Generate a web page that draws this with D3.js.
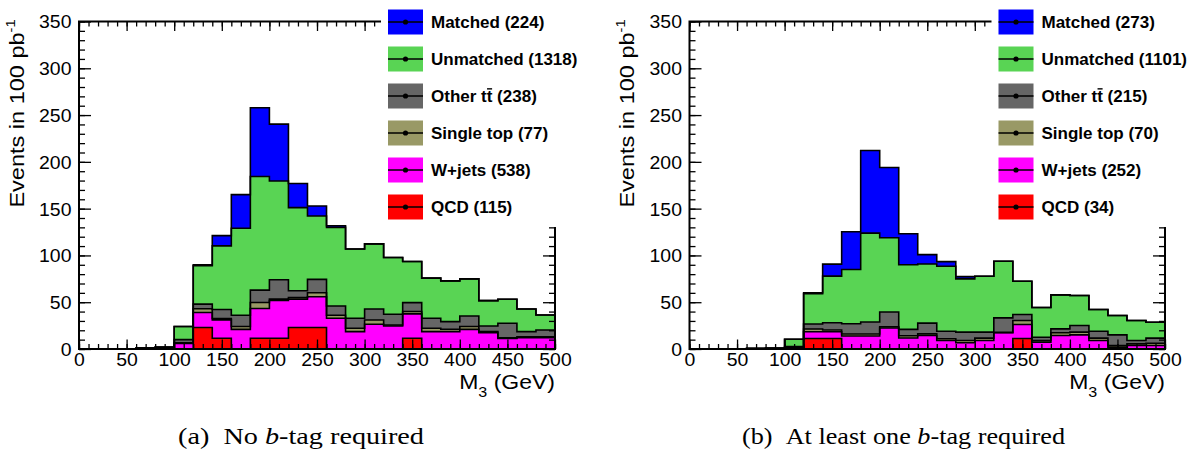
<!DOCTYPE html>
<html>
<head>
<meta charset="utf-8">
<script src="https://cdn.jsdelivr.net/npm/d3@7"></script>
<style>
  html, body { margin: 0; padding: 0; background: #fff; }
  svg { display: block; }
  text { font-family: "Liberation Sans", Arial, Helvetica, sans-serif; fill: #000; }
  .caption { font-family: "Liberation Serif", "Times New Roman", serif; }
</style>
</head>
<body>
<svg id="chart" width="1197" height="450"></svg>
<script>
// M3 binning: 25 bins of 20 GeV between 0 and 500 GeV
const binEdges = d3.range(0, 501, 20);
const yTickValues = [0, 50, 100, 150, 200, 250, 300, 350];
const xTickValues = [0, 50, 100, 150, 200, 250, 300, 350, 400, 450, 500];

// Process names, bottom of the stack first
const processNames = ["QCD", "W+jets", "Single top", "Other tt", "Unmatched", "Matched"];
const processColors = ["#ff0000", "#ff00ff", "#999966", "#666666", "#59d454", "#0000ff"];

// (a) No b-tag required — events per bin in 100 pb^-1
const qcdA       = [0,0,0,0,0,0,23,11.5,0,11.5,11.5,23,23,0,0,0,0,11.5,0,0,0,0,0,0,0];
const wjetsA     = [0,0,0,0,0.5,6,16,19.6,21,31.8,40.3,30.3,32.8,32.8,18.6,26.4,24.6,26,18.6,18.6,21,17.5,11.4,12.1,12.1];
const singleTopA = [0,0,0,0,0,0.5,4,1.5,3,6.4,1.5,1.8,4.3,3.2,3.5,4.6,1,2.5,3.6,2.5,3,1.1,0.7,1,1];
const otherTtA   = [0,0,0,0.5,0.7,3.5,5,9.6,12,13.2,20.7,7.2,14.3,10,10.8,11.8,11.5,9.6,10.6,8.2,11.3,6,15.4,5.5,7.2];
const unmatchedA = [0,0,0,0.8,1,14,41,68,93,121.4,105.6,88.8,67.8,84,73.9,69.6,60.7,43.9,42.9,43.5,39.6,27.1,25.7,24.2,16.1];
const matchedA   = [0,0,0,0,0,0,1,11,36,73.5,60.7,25.7,10.7,1.7,0,0,0,0,0,0,0,0,0,0,0];
const legendCountsA = [115, 538, 77, 238, 1318, 224];

// (b) At least one b-tag required
const qcdB       = [0,0,0,0,0,0,11.3,11.3,0,0,0,0,0,0,0,0,0,11.3,0,0,0,0,0,0,0];
const wjetsB     = [0,0,0,0,0,1,7.2,7.2,13.9,13.9,22.4,11.7,14.4,9.1,6.6,9.1,17.3,14.9,7.3,14.4,15.1,9.1,2,3.7,3.7];
const singleTopB = [0,0,0,0,0,0.3,2.9,1.8,2.1,2.1,1.4,2.5,1.8,1.8,2.5,2.5,0.5,4.2,1.8,2.9,2.9,2.5,1.7,1.8,2.5];
const otherTtB   = [0,0,0,0.3,0.5,1.2,5.3,7.8,11,12.8,15.7,6.8,11.4,8.1,8.9,6.4,15.5,6.4,3.5,4.2,7.1,7.4,11.4,3.6,5.4];
const unmatchedB = [0,0,0,0.4,0.5,8,32.3,49.8,58,95,79.4,69,63.3,69.4,56.9,59.8,60.5,35.6,31.7,36.3,32,23.2,20.7,21.3,17];
const matchedB   = [0,0,0,0,0,0,1.1,12.8,40.3,88.3,75.1,33.1,10,5,2.5,0,0,0,0,0,0,0,0,0,0];
const legendCountsB = [34, 252, 70, 215, 1101, 273];

const yAxisTitle = "Events in 100 pb";
const xAxisTitle = "M";
const captionA = { tag: "(a)", pre: "No ", b: "b", post: "-tag required" };
const captionB = { tag: "(b)", pre: "At least one ", b: "b", post: "-tag required" };

const svg = d3.select("#chart");

function drawPanel(opts) {
  const { x0, x1, yTop, yBottom, series, counts, caption, captionX, captionWidth } = opts;
  const g = svg.append("g");

  const x = d3.scaleLinear().domain([0, 500]).range([x0, x1]);
  const y = d3.scaleLinear().domain([0, 350]).range([yBottom, yTop]);

  // Stack the processes bin by bin
  const rows = binEdges.slice(0, -1).map((lo, i) => {
    const r = { lo };
    processNames.forEach((n, k) => { r[n] = series[k][i]; });
    return r;
  });
  const stacked = d3.stack().keys(processNames)(rows);

  // Step points: one per bin plus the closing edge at 500 GeV
  const stepPoints = layer => {
    const pts = layer.map(d => ({ xv: d.data.lo, lo: d[0], hi: d[1] }));
    const last = layer[layer.length - 1];
    pts.push({ xv: 500, lo: last[0], hi: last[1] });
    return pts;
  };

  const area = d3.area()
    .curve(d3.curveStepAfter)
    .x(d => x(d.xv))
    .y0(d => y(d.lo))
    .y1(d => y(d.hi));
  const line = d3.line()
    .curve(d3.curveStepAfter)
    .x(d => x(d.xv))
    .y(d => y(d.hi));

  stacked.forEach((layer, k) => {
    g.append("path")
      .attr("d", area(stepPoints(layer)))
      .attr("fill", processColors[k])
      .attr("stroke", "none");
  });
  stacked.forEach(layer => {
    const pts = stepPoints(layer);
    g.append("path")
      .attr("d", line(pts) + `L${x(500)},${y(0)}`)
      .attr("fill", "none")
      .attr("stroke", "#000")
      .attr("stroke-width", 1.6);
  });

  // Axes with inward major and minor ticks on all four sides
  const addAxis = (axisGen, transform, size, values, labels) => {
    const a = g.append("g")
      .attr("transform", transform)
      .call(axisGen.tickValues(values).tickSize(size).tickSizeOuter(0)
        .tickFormat(labels ? d3.format("d") : () => ""));
    a.select(".domain").remove();
    a.selectAll(".tick line").attr("stroke", "#000").attr("stroke-width", 1.3);
    a.selectAll("text").attr("fill", "#000");
    return a;
  };
  const yMinor = d3.range(0, 351, 10);
  const xMinor = d3.range(0, 501, 10);

  const yl = addAxis(d3.axisLeft(y), `translate(${x0},0)`, -12, yTickValues, true);
  yl.selectAll("text")
    .attr("x", -7).attr("dy", "0.36em").attr("font-size", 18)
    .attr("transform", "scale(1.08,1)");
  addAxis(d3.axisLeft(y), `translate(${x0},0)`, -6, yMinor, false);
  addAxis(d3.axisRight(y), `translate(${x1},0)`, -12, yTickValues, false);
  addAxis(d3.axisRight(y), `translate(${x1},0)`, -6, yMinor, false);

  const xb = addAxis(d3.axisBottom(x), `translate(0,${yBottom})`, -9.5, xTickValues, true);
  xb.selectAll("text")
    .attr("y", 17).attr("dy", 0).attr("font-size", 18)
    .attr("transform", "scale(1.08,1)");
  addAxis(d3.axisBottom(x), `translate(0,${yBottom})`, -5, xMinor, false);
  addAxis(d3.axisTop(x), `translate(0,${yTop})`, -9.5, xTickValues, false);
  addAxis(d3.axisTop(x), `translate(0,${yTop})`, -5, xMinor, false);

  // Frame
  g.append("rect")
    .attr("x", x0).attr("y", yTop)
    .attr("width", x1 - x0).attr("height", yBottom - yTop)
    .attr("fill", "none").attr("stroke", "#000").attr("stroke-width", 2);

  // Axis titles
  const yt = g.append("text")
    .attr("transform", `translate(${x0 - 55.5},${yTop - 2}) rotate(-90) scale(1.12,1)`)
    .attr("text-anchor", "end")
    .attr("font-size", 21);
  yt.append("tspan").text(yAxisTitle);
  yt.append("tspan").attr("font-size", 13).attr("dy", -9).text("-1");

  const xt = g.append("text")
    .attr("transform", `translate(${x1},${yBottom + 39.5}) scale(1.15,1)`)
    .attr("text-anchor", "end")
    .attr("font-size", 20);
  xt.append("tspan").text(xAxisTitle);
  xt.append("tspan").attr("font-size", 14).attr("dy", 8).text("3");
  xt.append("tspan").attr("dy", -8).text(" (GeV)");

  // Legend on a white pad over the upper right corner of the frame
  const legX = x0 + 302;
  g.append("rect")
    .attr("x", legX).attr("y", 0)
    .attr("width", 1197 - legX).attr("height", 227)
    .attr("fill", "#fff");
  const order = [5, 4, 3, 2, 1, 0];
  order.forEach((k, i) => {
    const cy = 22 + 37 * i;
    const bx = x0 + 309;
    g.append("rect")
      .attr("x", bx).attr("y", cy - 12.5)
      .attr("width", 35).attr("height", 25)
      .attr("fill", processColors[k]);
    g.append("line")
      .attr("x1", bx).attr("x2", bx + 35)
      .attr("y1", cy).attr("y2", cy)
      .attr("stroke", "#000").attr("stroke-width", 1.3);
    g.append("circle")
      .attr("cx", bx + 17.5).attr("cy", cy).attr("r", 2.6)
      .attr("fill", "#000");
    const fs = 17;
    const lg = g.append("g")
      .attr("transform", `translate(${x0 + 352},${cy + 0.36 * fs})`);
    const label = lg.append("text")
      .attr("font-size", fs)
      .attr("font-weight", "bold")
      .text(`${processNames[k]} (${counts[k]})`);
    if (processNames[k] === "Other tt") {
      // anti-top bar over the second t
      const node = label.node();
      const start = node.getSubStringLength(0, 7);
      const w = node.getSubStringLength(7, 1);
      lg.append("line")
        .attr("x1", start + 0.3).attr("x2", start + w - 0.3)
        .attr("y1", -0.78 * fs).attr("y2", -0.78 * fs)
        .attr("stroke", "#000").attr("stroke-width", 1.4);
    }
  });

  // Sub-figure caption
  const cap = svg.append("text")
    .attr("class", "caption")
    .attr("x", captionX - captionWidth / 2).attr("y", 444)
    .attr("font-size", 23)
    .attr("textLength", captionWidth)
    .attr("lengthAdjust", "spacingAndGlyphs");
  cap.append("tspan").text(caption.tag + "\u2002" + caption.pre);
  cap.append("tspan").attr("font-style", "italic").text(caption.b);
  cap.append("tspan").text(caption.post);
}

drawPanel({
  x0: 79, x1: 555, yTop: 21.5, yBottom: 349,
  series: [qcdA, wjetsA, singleTopA, otherTtA, unmatchedA, matchedA],
  counts: legendCountsA, caption: captionA, captionX: 301, captionWidth: 246
});
drawPanel({
  x0: 689.5, x1: 1165, yTop: 21.5, yBottom: 349,
  series: [qcdB, wjetsB, singleTopB, otherTtB, unmatchedB, matchedB],
  counts: legendCountsB, caption: captionB, captionX: 903.5, captionWidth: 323
});
</script>
</body>
</html>
